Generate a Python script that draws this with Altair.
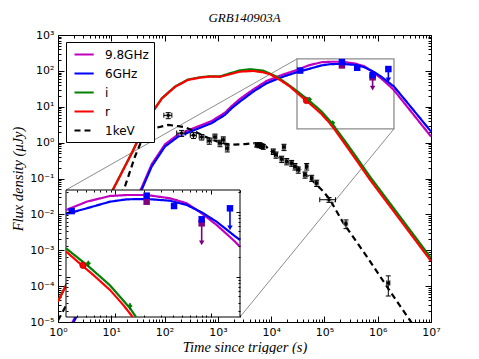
import altair as alt
import pandas as pd

# ---------------- values ----------------
BANDS = ["9.8GHz", "6GHz", "i", "r", "1keV"]
COLORS = ["#bf00bf", "#0000ff", "#008000", "#ff0000", "#000000"]
DASHES = [[1, 0], [1, 0], [1, 0], [1, 0], [6, 4]]

# model light curves (radio bands share one time grid)
t_radio = [1.778, 2.084, 37.2, 57.3, 101.9, 180.7, 372.4, 765.6, 1361, 1820, 2600, 4624,
           8241, 16900, 30550, 50350, 88100, 131800, 213300, 374100, 559800, 801700,
           1151000, 1718000, 2018000, 4467000, 1.0e7]
f_98 = [8.51e-6, 1.349e-5, 0.0558, 0.248, 0.895, 1.698, 2.612, 4.01, 6.82, 10.47, 16.56, 30.3,
        52.5, 79.4, 105.9, 142.2, 173.8, 179.9, 179.9, 160.3, 134.3, 94.4, 62.4, 36.7, 29.0,
        6.61, 1.479]
f_6 = [7.41e-6, 1.175e-5, 0.0486, 0.216, 0.780, 1.479, 2.275, 3.49, 5.94, 9.12, 13.93, 26.4,
       45.3, 69.2, 92.0, 112.5, 142.2, 154.5, 156.3, 147.2, 126.5, 97.7, 70.0, 43.9, 36.7,
       8.79, 2.04]
t_i = [1.0, 1.297, 10.76, 24.5, 39.4, 58.1, 89.5, 157, 275, 462, 711, 1096, 1690, 2600, 4010,
       7110, 12700, 19950, 30550, 52240, 88100, 142600, 164800, 251200, 398100, 716100,
       2512000, 1.0e7]
f_i = [3.80e-5, 8.22e-5, 0.0498, 0.533, 2.33, 6.92, 17.5, 36.6, 57.3, 66.4, 70.8, 70.0, 85.9,
       102.8, 111.2, 101.6, 69.2, 43.7, 27.4, 14.6, 7.41, 3.31, 2.42, 1.035, 0.394, 0.1125,
       0.00938, 6.04e-4]
t_r = [1.0, 1.297, 10.76, 24.5, 39.4, 58.1, 89.5, 157, 275, 462, 711, 1096, 1690, 2600, 4560,
       7030, 9510, 14660, 22540, 30550, 45710, 59020, 88100, 121300, 152400, 251200, 398100,
       716100, 2512000, 1.0e7]
f_r = [3.72e-5, 8.04e-5, 0.0486, 0.521, 2.275, 6.76, 17.1, 35.7, 56.0, 64.9, 69.2, 68.4, 80.7,
       95.3, 99.5, 91.6, 80.7, 56.0, 36.4, 24.5, 14.66, 10.67, 6.28, 3.70, 2.42, 0.851, 0.324,
       0.0925, 0.00771, 4.99e-4]
t_x = [1.0, 1.352, 18.07, 27.86, 39.9, 66.1, 117.5, 241.5, 372.4, 660.7, 1180, 1820, 3228,
       4624, 7112, 10960, 16900, 30130, 53580, 95060, 127100, 225900, 620900, 1472000,
       3741000, 4467000]
f_x = [1.096e-5, 2.535e-5, 0.0601, 0.411, 1.479, 2.535, 3.133, 2.704, 2.037, 1.337, 0.970,
       0.869, 0.910, 0.970, 0.910, 0.511, 0.333, 0.216, 0.103, 0.0437, 0.0256, 0.00577,
       6.78e-4, 9.93e-5, 1.309e-5, 8.91e-6]

# X-ray (1 keV) measurements
xr_t = [117, 209, 349, 497, 690, 883, 1097, 1265, 1503, 5360, 5910, 6170, 6640, 7110, 10960,
        12330, 17400, 15780, 19580, 24290, 28000, 32300, 46400, 43200, 57700, 71600, 121700,
        253600, 1580000]
xr_f = [5.75, 1.84, 1.60, 1.43, 1.12, 1.43, 0.97, 1.20, 0.70, 0.87, 0.84, 0.87, 0.81, 0.77,
        0.566, 0.458, 0.75, 0.348, 0.30, 0.269, 0.217, 0.175, 0.217, 0.127, 0.103, 0.0748,
        0.0256, 0.00551, 0.000123]
xr_ferr = [1.1, 0.35, 0.3, 0.25, 0.22, 0.3, 0.2, 0.25, 0.15, 0.12, 0.12, 0.12, 0.12, 0.12, 0.1,
           0.09, 0.15, 0.07, 0.06, 0.05, 0.045, 0.035, 0.045, 0.025, 0.02, 0.015, 0.004,
           0.0015, 0.00007]
xr_terr = [20, 40, 45, 50, 60, 70, 80, 90, 100, 300, 300, 300, 300, 300, 800, 800, 1000, 1000,
           1200, 1500, 1500, 2000, 2500, 2500, 3000, 4000, 40000, 10000, 100000]

# radio measurements and upper limits
r6_t = [35000, 213000, 412000, 802000]
r6_f = [102, 176, 122, 76.3]
r98_t = [213000]
r98_f = [142]
ul6_t = [1585000]
ul6_f = [112.5]
ul98_t = [802000]
ul98_f = [66.2]
# optical measurements
or_t = [46000]
or_f = [15.0]
or_err = [1.5]
oi_t = [52300, 142600]
oi_f = [16.1, 3.57]
oi_err = [1.6, 0.4]

# zoomed region
BOX_T = [30550, 2018000]
BOX_F = [2.42, 214.8]

X_MAJ = [1, 10, 100, 1e3, 1e4, 1e5, 1e6, 1e7]
Y_MAJ = [1e-5, 1e-4, 1e-3, 1e-2, 1e-1, 1, 10, 100, 1e3]
X_MIN = [k * 10.0 ** d for d in range(0, 7) for k in range(2, 10)]
Y_MIN = [k * 10.0 ** d for d in range(-5, 3) for k in range(2, 10)]
XI_MAJ = [1e5, 1e6]
XI_MIN = [v for v in X_MIN if BOX_T[0] <= v <= BOX_T[1]]
YI_MAJ = [10, 100]
YI_MIN = [v for v in Y_MIN if BOX_F[0] <= v <= BOX_F[1]]

# ---------------- layout / style ----------------
W, H = 373, 287
IX0, IX1, IY0, IY1 = 8, 182, 155, 282      # inset rectangle inside the plot (px)
ARROW = 0.5                                  # upper-limit arrow length (factor)

expr = "toString(round(log(datum.value)/LN10))"
for a, b in zip("-0123456789", "⁻⁰¹²³⁴⁵⁶⁷⁸⁹"):
    expr = f"replace({expr}, '{a}', '{b}')"
LABEL_EXPR = "'10' + " + expr

XS = alt.Scale(type="log", domain=[1, 1e7], nice=False)
YS = alt.Scale(type="log", domain=[1e-5, 1e3], nice=False)
XI = alt.Scale(type="log", domain=BOX_T, range=[IX0, IX1], nice=False, clamp=True)
YI = alt.Scale(type="log", domain=BOX_F, range=[IY1, IY0], nice=False, clamp=True)

LBL = dict(labelFont="DejaVu Sans", labelFontSize=11, labelColor="black", labelFlush=False,
           labelOverlap=False, labelExpr=LABEL_EXPR, ticks=False, domain=False, grid=True,
           gridColor="black", gridOpacity=1, gridWidth=1, titleFont="Liberation Serif",
           titleFontSize=14.5, titleFontStyle="italic", titleFontWeight="normal",
           titleColor="black", zindex=0)
AX_X = alt.Axis(values=X_MAJ, gridDash=[6, H - 12], labelPadding=4, titlePadding=3,
                title="Time since trigger (s)", **LBL)
AX_Y = alt.Axis(values=Y_MAJ, gridDash=[6, W - 12], labelPadding=4, titlePadding=4,
                title="Flux density (μJy)", **LBL)
MIN = dict(labels=False, ticks=False, domain=False, grid=True, gridColor="black",
           gridOpacity=1, gridWidth=1, title=None)
AX_XM = alt.Axis(values=X_MIN, gridDash=[3, H - 6], zindex=0, **MIN)
AX_YM = alt.Axis(values=Y_MIN, gridDash=[3, W - 6], zindex=0, **MIN)
IH, IW = IY1 - IY0, IX1 - IX0
AXI_X = alt.Axis(values=XI_MAJ, orient="top", gridDash=[4, IH - 8], zindex=1, **MIN)
AXI_Y = alt.Axis(values=YI_MAJ, orient="left", gridDash=[4, IW - 8], zindex=1, **MIN)
AXI_XM = alt.Axis(values=XI_MIN, orient="top", gridDash=[2, IH - 4], zindex=1, **MIN)
AXI_YM = alt.Axis(values=YI_MIN, orient="left", gridDash=[2, IW - 4], zindex=1, **MIN)

LEG = alt.Legend(orient="none", legendX=8, legendY=7, title=None, symbolType="M-1,0H2.2",
                 symbolSize=144, symbolStrokeWidth=2.2, labelFont="DejaVu Sans",
                 labelFontSize=12, labelColor="black", labelOffset=17, symbolOffset=2,
                 padding=5, rowPadding=5, strokeColor="black", fillColor="white",
                 cornerRadius=0, zindex=2)

# ---------------- tables ----------------
def frame(band, ts, fs):
    return pd.DataFrame({"band": band, "t": ts, "f": fs})

curves = pd.concat([frame("9.8GHz", t_radio, f_98), frame("6GHz", t_radio, f_6),
                    frame("i", t_i, f_i), frame("r", t_r, f_r), frame("1keV", t_x, f_x)],
                   ignore_index=True)
curves["k"] = range(len(curves))
tol = 1.001
inset_curves = curves[(curves.band != "1keV")
                      & (curves.t >= BOX_T[0] / tol) & (curves.t <= BOX_T[1] * tol)
                      & (curves.f >= BOX_F[0] / tol) & (curves.f <= BOX_F[1] * tol)]

xr = pd.DataFrame({"t": xr_t, "f": xr_f})
xr["flo"] = [f - e for f, e in zip(xr_f, xr_ferr)]
xr["fhi"] = [f + e for f, e in zip(xr_f, xr_ferr)]
xr["tlo"] = [t - e for t, e in zip(xr_t, xr_terr)]
xr["thi"] = [t + e for t, e in zip(xr_t, xr_terr)]

r6 = pd.DataFrame({"t": r6_t + ul6_t, "f": r6_f + ul6_f})
r98 = pd.DataFrame({"t": r98_t + ul98_t, "f": r98_f + ul98_f})
ul6 = pd.DataFrame({"t": ul6_t, "f": ul6_f, "e": [v * ARROW for v in ul6_f]})
ul98 = pd.DataFrame({"t": ul98_t, "f": ul98_f, "e": [v * ARROW for v in ul98_f]})
opr = pd.DataFrame({"t": or_t, "f": or_f, "lo": [f - e for f, e in zip(or_f, or_err)],
                    "hi": [f + e for f, e in zip(or_f, or_err)]})
opi = pd.DataFrame({"t": oi_t, "f": oi_f, "lo": [f - e for f, e in zip(oi_f, oi_err)],
                    "hi": [f + e for f, e in zip(oi_f, oi_err)]})
box = pd.DataFrame({"t0": [BOX_T[0]], "t1": [BOX_T[1]], "f0": [BOX_F[0]], "f1": [BOX_F[1]]})


def X(xs, field="t", ax=None):
    return alt.X(f"{field}:Q", scale=xs, axis=ax)


def Y(ys, field="f", ax=None):
    return alt.Y(f"{field}:Q", scale=ys, axis=ax)


def data_layers(xs, ys):
    out = []
    for d in (opr, opi):
        out.append(alt.Chart(d).mark_rule(color="black", strokeWidth=1).encode(
            x=X(xs), y=Y(ys, "lo"), y2="hi:Q"))
    out.append(alt.Chart(opr).mark_circle(size=42, color="#ff0000", opacity=1,
                                          stroke="#990000", strokeWidth=0.6).encode(
        x=X(xs), y=Y(ys)))
    out.append(alt.Chart(opi).mark_point(shape="diamond", filled=True, size=28,
                                         color="#008000", opacity=1).encode(
        x=X(xs), y=Y(ys)))
    for d, u, c in ((r98, ul98, "#800080"), (r6, ul6, "#0000ff")):
        out.append(alt.Chart(u).mark_rule(color=c, strokeWidth=1.6).encode(
            x=X(xs), y=Y(ys), y2="e:Q"))
        out.append(alt.Chart(u).mark_point(shape="triangle-down", filled=True, size=30,
                                           color=c, opacity=1).encode(
            x=X(xs), y=Y(ys, "e")))
        out.append(alt.Chart(d).mark_square(size=42, color=c, opacity=1).encode(
            x=X(xs), y=Y(ys)))
    return out


color = alt.Color("band:N", scale=alt.Scale(domain=BANDS, range=COLORS), legend=LEG)
dash = alt.StrokeDash("band:N", scale=alt.Scale(domain=BANDS, range=DASHES), legend=LEG)
color_i = alt.Color("band:N", scale=alt.Scale(domain=BANDS, range=COLORS), legend=None)
dash_i = alt.StrokeDash("band:N", scale=alt.Scale(domain=BANDS, range=DASHES), legend=None)

# ---------------- main panel ----------------
conn1 = alt.Chart(box).mark_rule(color="#8c8c8c", strokeWidth=1).encode(
    x=X(XS, "t0"), y=Y(YS, "f1"), x2=alt.value(IX0), y2=alt.value(IY0))
conn2 = alt.Chart(box).mark_rule(color="#8c8c8c", strokeWidth=1).encode(
    x=X(XS, "t1"), y=Y(YS, "f0"), x2=alt.value(IX1), y2=alt.value(IY1))
box_main = alt.Chart(box).mark_rect(fillOpacity=0, stroke="#8c8c8c", strokeWidth=1.3).encode(
    x=X(XS, "t0"), x2="t1:Q", y=Y(YS, "f0"), y2="f1:Q")
curve_main = alt.Chart(curves).mark_line(strokeWidth=2.2, clip=True).encode(
    x=X(XS, ax=AX_X), y=Y(YS, ax=AX_Y), color=color, strokeDash=dash, order="k:Q")
xr_halo = alt.Chart(xr).mark_square(size=30, color="#c8c8c8", opacity=0.6).encode(
    x=X(XS, ax=AX_XM), y=Y(YS, ax=AX_YM))
xr_ye = alt.Chart(xr).mark_rule(color="black", strokeWidth=1).encode(
    x=X(XS), y=Y(YS, "flo"), y2="fhi:Q")
xr_xe = alt.Chart(xr).mark_rule(color="black", strokeWidth=1).encode(
    x=X(XS, "tlo"), x2="thi:Q", y=Y(YS))
xr_yc = alt.Chart(xr).transform_fold(["flo", "fhi"], as_=["kk", "v"]).mark_tick(
    orient="horizontal", size=5, thickness=1, color="black", opacity=1).encode(
    x=X(XS), y=Y(YS, "v"))
xr_xc = alt.Chart(xr).transform_fold(["tlo", "thi"], as_=["kk", "v"]).mark_tick(
    orient="vertical", size=5, thickness=1, color="black", opacity=1).encode(
    x=X(XS, "v"), y=Y(YS))
xr_pt = alt.Chart(xr).mark_circle(size=12, color="black", opacity=1).encode(
    x=X(XS), y=Y(YS))

main_layers = [conn1, conn2, box_main, curve_main, xr_halo, xr_ye, xr_xe, xr_yc, xr_xc,
               xr_pt] + data_layers(XS, YS)

# ---------------- inset panel ----------------
inset_bg = alt.Chart(box).mark_rect(fill="white", stroke="black", strokeWidth=1).encode(
    x=X(XI, "t0", AXI_X), x2="t1:Q", y=Y(YI, "f0", AXI_Y), y2="f1:Q")
inset_line = alt.Chart(inset_curves).mark_line(strokeWidth=2.2).encode(
    x=X(XI, ax=AXI_XM), y=Y(YI, ax=AXI_YM), color=color_i, strokeDash=dash_i, order="k:Q")
inset_layers = [inset_bg, inset_line] + data_layers(XI, YI)

chart = alt.layer(*main_layers, *inset_layers).resolve_scale(
    x="independent", y="independent").resolve_axis(x="independent", y="independent").properties(
    width=W, height=H,
    autosize=alt.AutoSizeParams(type="none"),
    padding={"left": 50, "top": 27, "right": 20, "bottom": 32},
    title=alt.Title("GRB140903A", font="Liberation Serif", fontStyle="italic",
                    fontWeight="normal", fontSize=13, color="black", offset=4,
                    anchor="middle"),
).configure_view(stroke="black", strokeWidth=1)

chart.save("out.html", embed_options={"renderer": "svg", "actions": False})
